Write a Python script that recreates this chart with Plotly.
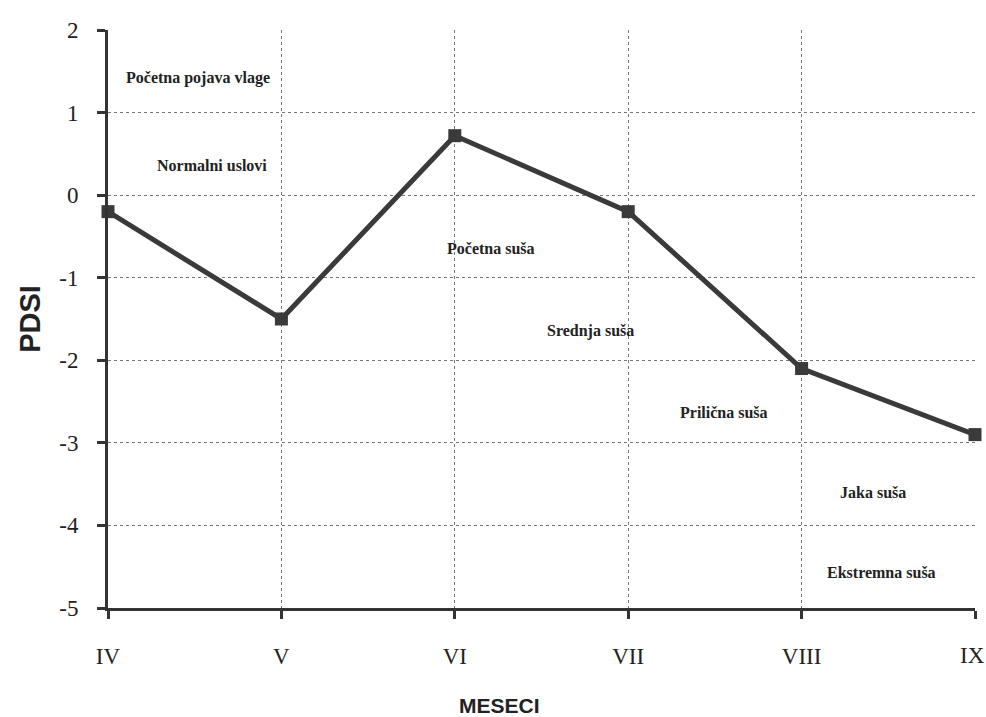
import plotly.graph_objects as go

months = ["IV", "V", "VI", "VII", "VIII", "IX"]
pdsi = [-0.2, -1.5, 0.72, -0.2, -2.1, -2.9]
y_ticks = [2, 1, 0, -1, -2, -3, -4, -5]

zone_labels = ["Početna pojava vlage", "Normalni uslovi", "Početna suša", "Srednja suša",
               "Prilična suša", "Jaka suša", "Ekstremna suša"]
zone_x = [0.52, 0.6, 2.21, 2.78, 3.55, 4.41, 4.46]
zone_y = [1.42, 0.36, -0.65, -1.65, -2.63, -3.6, -4.57]

xpos = list(range(len(months)))
# last month label drawn as an annotation so it stays inside the page edge
tick_text = months[:-1] + [""]

fig = go.Figure()
fig.add_trace(go.Scatter(
    x=xpos, y=pdsi, mode="lines+markers",
    line=dict(color="#3a3a3a", width=5),
    marker=dict(symbol="square", size=13, color="#3a3a3a"),
    cliponaxis=False,
    showlegend=False, hoverinfo="skip"))

for t, x, y in zip(zone_labels, zone_x, zone_y):
    fig.add_annotation(x=x, y=y, text="<b>" + t + "</b>", showarrow=False,
                       font=dict(family="Liberation Serif", size=16, color="#222"))

fig.add_annotation(x=xpos[-1], y=0, yref="paper", text=months[-1], showarrow=False,
                   yanchor="middle", yshift=-47, xshift=-3,
                   font=dict(family="Liberation Serif", size=23, color="#222"))
fig.add_annotation(x=2.26, y=0, yref="paper", text="<b>MESECI</b>", showarrow=False,
                   yanchor="middle", yshift=-97,
                   font=dict(family="Liberation Sans", size=21, color="#222"))

fig.update_layout(
    width=986, height=717,
    margin=dict(l=108, r=11, t=30, b=109),
    plot_bgcolor="white", paper_bgcolor="white",
    font=dict(family="Liberation Serif", color="#222"),
)
fig.update_xaxes(
    range=[0, 5], tickvals=xpos, ticktext=tick_text,
    tickfont=dict(family="Liberation Serif", size=23, color="#222"),
    showgrid=True, gridcolor="#777", griddash="dot", gridwidth=1,
    showline=True, linecolor="#333", linewidth=3,
    ticks="outside", ticklen=8, tickwidth=3, tickcolor="#333",
    zeroline=False, automargin=False, ticklabeloverflow="allow",
    ticklabelstandoff=17,
)
fig.update_yaxes(
    range=[-5, 2], tickvals=y_ticks, ticktext=[str(v) for v in y_ticks],
    tickfont=dict(family="Liberation Serif", size=23, color="#222"),
    showgrid=True, gridcolor="#777", griddash="dot", gridwidth=1,
    showline=True, linecolor="#333", linewidth=3,
    ticks="outside", ticklen=8, tickwidth=3, tickcolor="#333",
    zeroline=False, automargin=False, ticklabeloverflow="allow",
    ticklabelstandoff=14,
    title=dict(text="<b>PDSI</b>", font=dict(family="Liberation Sans", size=29, color="#222"), standoff=11),
)

fig.write_html("out.html", config={"displayModeBar": False},
               post_script="document.body.style.margin='0';document.body.style.overflow='hidden';")
